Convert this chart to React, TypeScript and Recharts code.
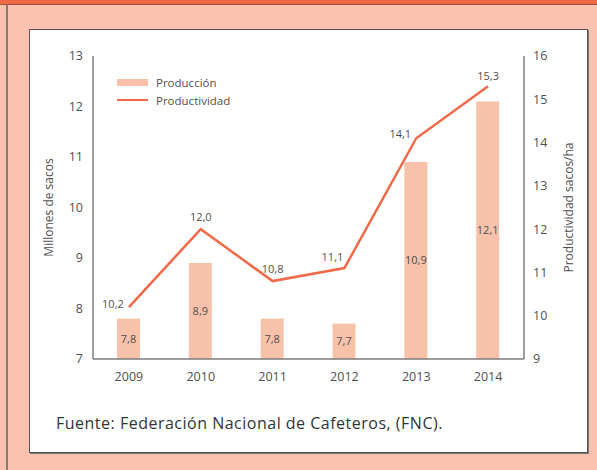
import React from "react";
import {
  Bar,
  ComposedChart,
  LabelList,
  Legend,
  Line,
  XAxis,
  YAxis,
} from "recharts";

const years = ["2009", "2010", "2011", "2012", "2013", "2014"];
const produccion = [7.8, 8.9, 7.8, 7.7, 10.9, 12.1];
const productividad = [10.2, 12.0, 10.8, 11.1, 14.1, 15.3];
const leftTicks = [7, 8, 9, 10, 11, 12, 13];
const rightTicks = [9, 10, 11, 12, 13, 14, 15, 16];

const data = years.map((year, i) => ({
  year,
  produccion: produccion[i],
  productividad: productividad[i],
}));

// where each line label sits relative to its point
const lineLabelDx = [-16, 0, 0, -12, -16, 0];
const lineLabelDy = [-4, -13, -13, -12, -5, -11];

const font = "'Open Sans', Lato, sans-serif";
const barColor = "#f8c2aa";
const lineColor = "#f06a4a";
const axisColor = "#7d7d7d";
const textColor = "#4f4f4f";

const fmt = (v: number) => v.toFixed(1).replace(".", ",");

function LineValueLabel(props: any) {
  const { x, y, value, index } = props;
  return (
    <text
      x={x + lineLabelDx[index]}
      y={y + lineLabelDy[index]}
      textAnchor="middle"
      dominantBaseline="central"
      fontSize={11}
      fill={textColor}
      fontFamily={font}
    >
      {fmt(value)}
    </text>
  );
}

function AxisTitle({ viewBox, value, dx }: any) {
  const cx = viewBox.x + viewBox.width / 2 + dx;
  const cy = viewBox.y + viewBox.height / 2;
  return (
    <text
      x={cx}
      y={cy}
      transform={`rotate(-90 ${cx} ${cy})`}
      textAnchor="middle"
      dominantBaseline="central"
      fontSize={12}
      fill={textColor}
      fontFamily={font}
    >
      {value}
    </text>
  );
}

function LegendBox() {
  const row = {
    display: "flex",
    alignItems: "center",
    height: 18,
    fontSize: 11.5,
    color: textColor,
    fontFamily: font,
  } as const;
  return (
    <div>
      <div style={row}>
        <span style={{ width: 31, height: 7, background: barColor, marginRight: 8 }} />
        Producción
      </div>
      <div style={row}>
        <span style={{ width: 31, height: 2.5, background: lineColor, marginRight: 8 }} />
        Productividad
      </div>
    </div>
  );
}

export default function App() {
  return (
    <div
      style={{
        position: "absolute",
        left: 0,
        top: 0,
        width: 597,
        height: 470,
        background: "#fbc3af",
        overflow: "hidden",
        fontFamily: font,
      }}
    >
      <div
        style={{
          position: "absolute",
          left: 0,
          top: 0,
          width: 597,
          height: 4,
          background: "#ee6a47",
          borderBottom: "1px solid #a44f38",
        }}
      />
      <div
        style={{
          position: "absolute",
          left: 6,
          top: 5,
          width: 1.5,
          height: 465,
          background: "#8a7a75",
        }}
      />
      <div
        style={{
          position: "absolute",
          left: 29,
          top: 29,
          width: 557,
          height: 422,
          background: "#fff",
          border: "1px solid #555",
          boxShadow: "1px 1px 0 #777",
        }}
      />
      <div
        style={{
          position: "absolute",
          left: 56,
          top: 412,
          fontSize: 16,
          letterSpacing: 0.5,
          color: "#333",
          fontFamily: font,
          whiteSpace: "nowrap",
        }}
      >
        Fuente: Federación Nacional de Cafeteros, (FNC).
      </div>
      <div style={{ position: "absolute", left: 0, top: 0 }}>
        <ComposedChart
          width={597}
          height={470}
          data={data}
          margin={{ top: 56, right: 33, left: 53, bottom: 81 }}
        >
          <XAxis
            dataKey="year"
            height={30}
            axisLine={{ stroke: axisColor, strokeWidth: 1.5 }}
            tickLine={false}
            tickMargin={7}
            tick={{ fill: textColor, fontSize: 12.5, fontFamily: font }}
          />
          <YAxis
            yAxisId="left"
            orientation="left"
            width={40}
            domain={[7, 13]}
            ticks={leftTicks}
            axisLine={{ stroke: axisColor, strokeWidth: 1.5 }}
            tickLine={false}
            tickMargin={4}
            tick={{ fill: textColor, fontSize: 12.5, fontFamily: font }}
            label={<AxisTitle value="Millones de sacos" dx={-25} />}
          />
          <YAxis
            yAxisId="right"
            orientation="right"
            width={40}
            domain={[9, 16]}
            ticks={rightTicks}
            axisLine={{ stroke: axisColor, strokeWidth: 1.5 }}
            tickLine={false}
            tickMargin={3}
            tick={{ fill: textColor, fontSize: 12.5, fontFamily: font }}
            label={<AxisTitle value="Productividad sacos/ha" dx={24} />}
          />
          <Legend
            layout="vertical"
            align="center"
            verticalAlign="middle"
            wrapperStyle={{ left: 117, top: 73, width: "auto" }}
            content={<LegendBox />}
          />
          <Bar
            yAxisId="left"
            dataKey="produccion"
            name="Producción"
            fill={barColor}
            barSize={23}
            isAnimationActive={false}
          >
            <LabelList
              dataKey="produccion"
              position="center"
              formatter={(v: any) => fmt(Number(v))}
              fill={textColor}
              fontSize={11}
              fontFamily={font}
            />
          </Bar>
          <Line
            yAxisId="right"
            dataKey="productividad"
            name="Productividad"
            stroke={lineColor}
            strokeWidth={2.5}
            dot={false}
            activeDot={false}
            isAnimationActive={false}
            label={<LineValueLabel />}
          />
        </ComposedChart>
      </div>
    </div>
  );
}
